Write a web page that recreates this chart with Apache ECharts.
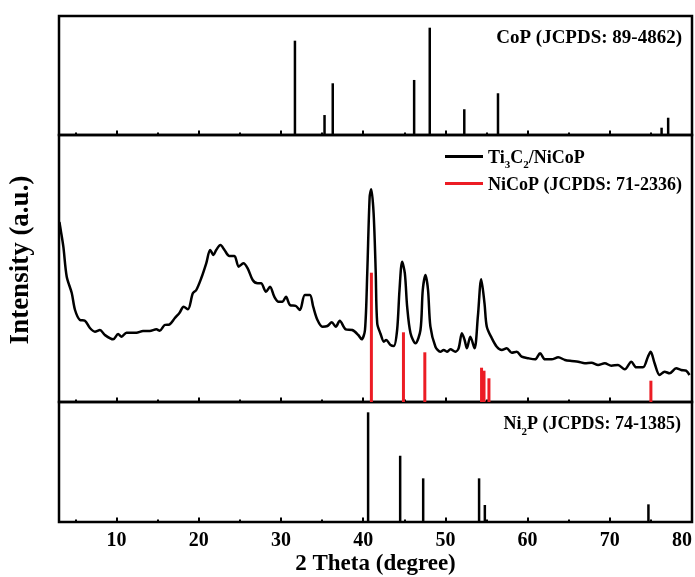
<!DOCTYPE html>
<html lang="en">

<head>
  <meta charset="UTF-8">
  <title>XRD</title>
  <script src="https://cdn.jsdelivr.net/npm/echarts@6/dist/echarts.min.js"></script>
</head>

<body style="margin:0">
  <div id="main" style="width:695px;height:577px;"></div>
  <script type="text/javascript">
    // stick patterns (2 theta, relative intensity)
    var copTheta = [31.7, 35.3, 36.3, 46.2, 48.1, 52.3, 56.4, 76.3, 77.1];
    var copInt = [87.9, 18.6, 48.2, 51.3, 100, 24.0, 38.9, 6.8, 16.1];

    var ni2pTheta = [40.6, 44.5, 47.3, 54.1, 54.8, 74.7];
    var ni2pInt = [100, 60.4, 39.8, 39.8, 15.5, 16.1];

    var nicopTheta = [41.0, 44.9, 47.5, 54.4, 54.7, 55.3, 75.0];
    var nicopInt = [129.3, 69.7, 49.7, 34.3, 31.3, 23.7, 21.3];

    // measured pattern Ti3C2/NiCoP
    var sampleTheta = [3.05, 3.21, 3.53, 3.94, 4.55, 4.95, 5.55, 6.15, 6.76, 7.37, 7.98, 8.58, 9.59, 10.19, 10.61,
      11.21, 12.42, 13.22, 14.04, 14.85, 15.25, 15.85, 16.46, 17.07, 17.67, 18.16, 18.68, 19.28, 19.70, 20.30,
      20.91, 21.39, 21.79, 22.12, 22.64, 23.13, 23.73, 24.34, 24.86, 25.43, 25.95, 26.56, 27.16, 27.58, 28.18,
      28.67, 29.19, 29.71, 30.19, 30.61, 31.09, 31.82, 32.30, 32.91, 33.52, 33.92, 34.44, 35.04, 35.65, 36.18,
      36.67, 37.15, 37.88, 38.68, 39.41, 39.82, 40.22, 40.50, 40.79, 40.98, 41.27, 41.52, 41.71, 42.12, 42.52,
      42.80, 43.33, 43.73, 44.13, 44.42, 44.74, 45.07, 45.35, 45.76, 46.36, 46.97, 47.25, 47.58, 47.89, 48.18,
      48.79, 49.39, 49.79, 50.19, 50.61, 51.21, 51.61, 52.01, 52.34, 52.62, 53.03, 53.55, 53.95, 54.36, 54.76,
      55.04, 55.65, 56.25, 56.86, 57.47, 58.07, 58.68, 59.28, 60.10, 60.91, 61.52, 62.12, 62.92, 63.73, 64.55,
      65.35, 66.16, 66.97, 67.77, 68.58, 69.39, 70.19, 71.0, 71.82, 72.62, 73.22, 74.04, 74.64, 74.97, 75.45,
      76.06, 76.67, 77.27, 78.07, 78.68, 79.28, 79.70];
    var sampleInt = [180, 172, 155.3, 125.3, 109, 92, 82, 81.3, 74, 70.3, 72, 67, 62.7, 68, 65.3,
      69.3, 69.3, 71, 71, 72.7, 71.3, 77, 77.7, 83.7, 89.3, 95.3, 92.7, 108.7, 112, 123.7,
      138.7, 152, 147, 152, 157, 152, 146, 146, 135.3, 138.7, 133.7, 122, 118.7, 118.7, 110.3,
      115.3, 105.3, 100.3, 100.3, 105.3, 97, 96, 92, 107, 107, 95.3, 82, 75.3, 76, 79.7,
      75.3, 81.3, 72.7, 72, 67, 62.7, 72, 130, 205.3, 212.7, 188.7, 132, 78.7, 68, 60.3,
      62, 57, 56, 72, 112, 140.3, 128.7, 95.3, 68.7, 58.7, 72, 112, 127, 112, 75.3,
      55.3, 50.3, 52, 50.3, 52.7, 50.3, 53.7, 68.7, 62, 53.7, 65.3, 53.7, 85.3, 122.7, 98.7,
      75.3, 63.7, 55.3, 52, 53.7, 49.3, 50.3, 45.3, 43.7, 42.7, 48.7, 42.7, 42.7, 44.7, 42,
      41, 40.3, 38.7, 39.3, 37, 38.7, 36.3, 37, 32.7, 40.3, 34.7, 34.7, 45.3, 50.3, 38.7,
      27, 30.3, 28.7, 33.7, 32, 31.3, 27];

    var FONT = '"Liberation Serif", "Times New Roman", serif';
    var RED = '#ec1c24';

    function pairs(xs, ys) {
      return xs.map(function (x, i) { return [x, ys[i]]; });
    }

    var grids = [
      { top: 16, height: 119 },
      { top: 135, height: 267 },
      { top: 402, height: 120 }
    ];
    var yMax = [110.9, 267, 109.4];

    var xAxes = [];
    grids.forEach(function (g, i) {
      // short ticks every 5 degrees
      xAxes.push({
        type: 'value', gridIndex: i, position: 'bottom', min: 3, max: 80,
        minInterval: 5, maxInterval: 5,
        axisLine: { show: false },
        axisTick: { inside: true, length: 2.5, lineStyle: { color: '#000', width: 2 } },
        axisLabel: { show: false },
        splitLine: { show: false }
      });
      // long ticks every 10 degrees, labels only on the bottom panel
      xAxes.push({
        type: 'value', gridIndex: i, position: 'bottom', min: 3, max: 80,
        minInterval: 10, maxInterval: 10,
        axisLine: { show: false },
        axisTick: { inside: true, length: 4.5, lineStyle: { color: '#000', width: 2 } },
        axisLabel: {
          show: i === 2, showMinLabel: false, alignMaxLabel: 'right',
          color: '#000', fontFamily: FONT, fontWeight: 'bold', fontSize: 20, margin: 9
        },
        splitLine: { show: false },
        name: i === 2 ? '2 Theta (degree)' : '',
        nameLocation: 'middle', nameGap: 31,
        nameTextStyle: { color: '#000', fontFamily: FONT, fontWeight: 'bold', fontSize: 23 }
      });
    });

    var myChart = echarts.init(document.getElementById('main'));

    var option = {
      animation: false,
      backgroundColor: '#fff',
      grid: grids.map(function (g) {
        return {
          left: 59, right: 3, top: g.top, height: g.height, show: true,
          outerBoundsMode: 'none', containLabel: false,
          borderColor: '#000', borderWidth: 2.5, backgroundColor: 'transparent'
        };
      }),
      xAxis: xAxes,
      yAxis: grids.map(function (g, i) {
        return { type: 'value', gridIndex: i, min: 0, max: yMax[i], show: false };
      }),
      legend: {
        orient: 'vertical', left: 440, top: 144, itemGap: 5,
        itemWidth: 38, itemHeight: 3,
        data: [
          { name: 'Ti3C2/NiCoP', icon: 'rect' },
          { name: 'NiCoP (JCPDS: 71-2336)', icon: 'rect' }
        ],
        formatter: function (name) {
          if (name === 'Ti3C2/NiCoP') return '{t|Ti}{s|3}{t|C}{s|2}{t|/NiCoP}';
          return '{t|' + name + '}';
        },
        textStyle: {
          rich: {
            t: { fontFamily: FONT, fontWeight: 'bold', fontSize: 18, color: '#000', lineHeight: 21, verticalAlign: 'bottom' },
            s: { fontFamily: FONT, fontWeight: 'bold', fontSize: 11, color: '#000', lineHeight: 21, verticalAlign: 'bottom', padding: [0, 0, -4, 0] }
          }
        }
      },
      graphic: [
        {
          type: 'text', x: 21, y: 260, rotation: Math.PI / 2,
          style: {
            text: 'Intensity (a.u.)', fill: '#000', font: 'bold 27px ' + FONT,
            align: 'center', verticalAlign: 'middle'
          }
        },
        {
          type: 'text', x: 682, y: 38,
          style: {
            text: 'CoP (JCPDS: 89-4862)', fill: '#000', font: 'bold 19px ' + FONT,
            align: 'right', verticalAlign: 'middle'
          }
        },
        {
          type: 'text', x: 681, y: 423,
          style: {
            text: '{t|Ni}{s|2}{t|P (JCPDS: 74-1385)}', align: 'right', verticalAlign: 'middle',
            rich: {
              t: { font: 'bold 18px ' + FONT, fill: '#000', lineHeight: 21, verticalAlign: 'bottom' },
              s: { font: 'bold 11px ' + FONT, fill: '#000', lineHeight: 21, verticalAlign: 'bottom', padding: [0, 0, -4, 0] }
            }
          }
        }
      ],
      series: [
        {
          name: 'CoP (JCPDS: 89-4862)', type: 'bar', xAxisIndex: 0, yAxisIndex: 0,
          barWidth: 2.5, itemStyle: { color: '#000' }, data: pairs(copTheta, copInt)
        },
        {
          name: 'NiCoP (JCPDS: 71-2336)', type: 'bar', xAxisIndex: 2, yAxisIndex: 1,
          barWidth: 3, itemStyle: { color: RED }, data: pairs(nicopTheta, nicopInt)
        },
        {
          name: 'Ti3C2/NiCoP', type: 'line', xAxisIndex: 2, yAxisIndex: 1,
          showSymbol: false, smooth: 0.3, itemStyle: { color: '#000' },
          lineStyle: { color: '#000', width: 2.5 }, data: pairs(sampleTheta, sampleInt)
        },
        {
          name: 'Ni2P (JCPDS: 74-1385)', type: 'bar', xAxisIndex: 4, yAxisIndex: 2,
          barWidth: 2.5, itemStyle: { color: '#000' }, data: pairs(ni2pTheta, ni2pInt)
        }
      ]
    };

    myChart.setOption(option);
  </script>
</body>

</html>
